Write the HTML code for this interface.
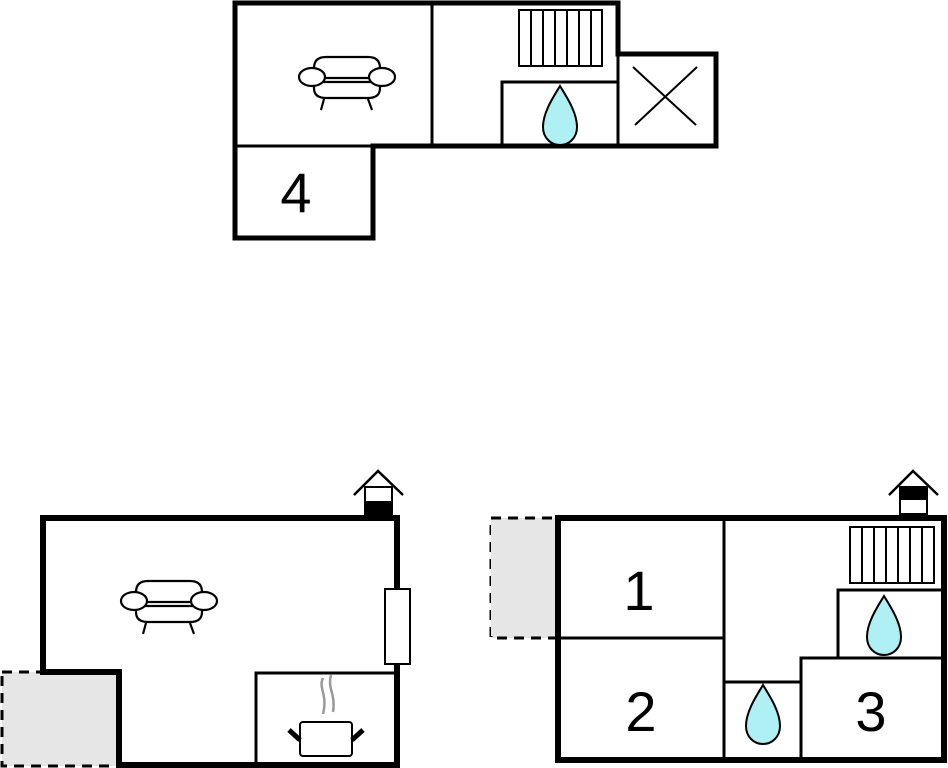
<!DOCTYPE html>
<html><head><meta charset="utf-8"><style>
html,body{margin:0;padding:0;background:#fff;width:948px;height:768px;overflow:hidden}
svg{display:block}
text{font-family:"Liberation Sans",sans-serif;fill:#000}
</style></head><body>
<svg width="948" height="768" viewBox="0 0 948 768" xmlns="http://www.w3.org/2000/svg">
<defs>
<g id="sofa" fill="#fff" stroke="#000" stroke-width="2.2">
  <path d="M-32,-2 L-32,-12 Q-32,-23 -20,-23 L22,-23 Q34,-23 34,-12 L34,-2 Z"/>
  <path d="M-32,2 L34,2 L34,8 Q34,18 22,18 L-20,18 Q-32,18 -32,8 Z"/>
  <line x1="-22" y1="19" x2="-25" y2="30"/>
  <line x1="22" y1="19" x2="26" y2="30"/>
  <ellipse cx="-34" cy="-3" rx="13" ry="9"/>
  <ellipse cx="36" cy="-3" rx="13" ry="9"/>
</g>
<path id="drop" d="M0,0 C6,10 17,26 17,41 C17,52 9,59 0,59 C-9,59 -17,52 -17,41 C-17,26 -6,10 0,0 Z" fill="#aef0f3" stroke="#000" stroke-width="2"/>
</defs>

<!-- TOP PLAN -->
<g fill="none" stroke="#000">
  <line x1="432" y1="3" x2="432" y2="146" stroke-width="3"/>
  <line x1="235" y1="146" x2="373" y2="146" stroke-width="3"/>
  <path d="M502,146 L502,82 L618,82" stroke-width="3"/>
  <line x1="618" y1="53" x2="618" y2="146" stroke-width="3"/>
  <rect x="519" y="10" width="83" height="56" stroke-width="2"/>
  <path d="M531,10V66M543,10V66M555,10V66M567,10V66M579,10V66M591,10V66" stroke-width="2"/>
  <line x1="633" y1="67" x2="696" y2="125" stroke-width="2"/>
  <line x1="635" y1="125" x2="697" y2="67" stroke-width="2"/>
  <path d="M235,3 L618,3 L618,54 L716,54 L716,146 L373,146 L373,238 L235,238 Z" stroke-width="5"/>
</g>
<use href="#sofa" x="346" y="80"/>
<use href="#drop" x="560" y="86"/>
<text x="296" y="212" font-size="56" text-anchor="middle">4</text>

<!-- BOTTOM LEFT -->
<rect x="2" y="672" width="117" height="94" fill="#e6e6e6" stroke="#000" stroke-width="3" stroke-dasharray="10,7"/>
<g fill="none" stroke="#000">
  <path d="M256,765 L256,672 L397,672" stroke-width="3"/>
  <path d="M43,518 L397,518 L397,765 L119,765 L119,672 L43,672 Z" stroke-width="6" fill="#fff"/>
  <path d="M256,765 L256,673 L397,673" stroke-width="3"/>
  <rect x="385" y="589" width="25" height="75" fill="#fff" stroke-width="2"/>
  <path d="M323,678 C318,688 328,694 323,714 M331,675 C327,688 336,694 333,712" stroke="#999" stroke-width="2.5"/>
  <rect x="300" y="722" width="52" height="34" rx="3" fill="#fff" stroke-width="2"/>
  <line x1="289" y1="730" x2="300" y2="740" stroke-width="5"/>
  <line x1="363" y1="730" x2="352" y2="740" stroke-width="5"/>
  <rect x="365" y="487" width="27" height="27" fill="#fff" stroke-width="2"/>
  <rect x="365" y="501" width="27" height="14" fill="#000" stroke="none"/>
  <path d="M354,495 L378,471 L403,495" stroke-width="2.5"/>
</g>
<use href="#sofa" x="168" y="604"/>

<!-- BOTTOM RIGHT -->
<rect x="491" y="518" width="67" height="120" fill="#e6e6e6" stroke="#000" stroke-width="3" stroke-dasharray="10,7"/>
<rect x="491" y="520" width="70" height="116" fill="#e6e6e6"/>
<g fill="none" stroke="#000">
  <rect x="558" y="518" width="386" height="242" fill="#fff" stroke-width="6"/>
  <line x1="558" y1="638" x2="724" y2="638" stroke-width="3"/>
  <line x1="724" y1="518" x2="724" y2="760" stroke-width="3"/>
  <path d="M838,658 L838,590 L944,590" stroke-width="3"/>
  <path d="M801,760 L801,658 L944,658" stroke-width="3"/>
  <path d="M724,682 L801,682" stroke-width="3"/>
  <rect x="850" y="527" width="84" height="56" stroke-width="2"/>
  <path d="M862,527V583M874,527V583M886,527V583M898,527V583M910,527V583M922,527V583" stroke-width="2"/>
  <rect x="900" y="487" width="27" height="27" fill="#fff" stroke-width="2"/>
  <rect x="900" y="487" width="27" height="13" fill="#000" stroke="none"/>
  <path d="M889,495 L913,471 L938,495" stroke-width="2.5"/>
</g>
<use href="#drop" x="884" y="596"/>
<use href="#drop" x="763" y="685"/>
<text x="639" y="610" font-size="56" text-anchor="middle">1</text>
<text x="641" y="731" font-size="56" text-anchor="middle">2</text>
<text x="871" y="731" font-size="56" text-anchor="middle">3</text>
</svg>
</body></html>
